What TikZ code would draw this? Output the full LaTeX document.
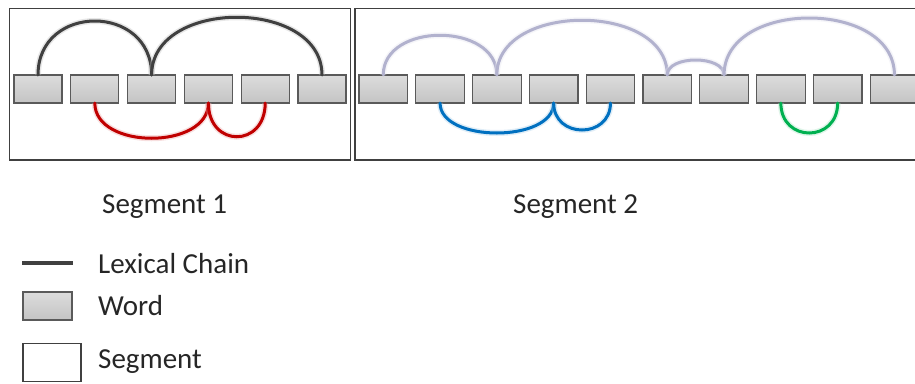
\documentclass[tikz,border=0pt]{standalone}
\usepackage{fontspec}
\setmainfont{Carlito}
\begin{document}
\begin{tikzpicture}[x=1pt,y=-1pt,
  segbox/.style={draw=segline, line width=1.4pt, fill=white},
  wordbox/.style={draw=wordline, line width=1.2pt, top color=wordtop, bottom color=wordbot,
    minimum width=48pt, minimum height=28pt, inner sep=0pt, outer sep=0pt},
  chain/.style={draw=#1, line width=3pt, line cap=round,
    preaction={draw=#1!35, line width=6pt, draw opacity=0.35}},
  lbl/.style={font=\fontsize{29}{34}\selectfont, text=labeltext, inner sep=0pt, anchor=base west},
]
\definecolor{segline}{RGB}{64,64,64}
\definecolor{wordline}{RGB}{90,90,90}
\definecolor{wordtop}{RGB}{220,220,220}
\definecolor{wordbot}{RGB}{196,196,196}
\definecolor{darkchain}{RGB}{64,64,64}
\definecolor{palechain}{RGB}{178,178,206}
\definecolor{redchain}{RGB}{192,0,0}
\definecolor{bluechain}{RGB}{0,112,192}
\definecolor{greenchain}{RGB}{0,176,80}
\definecolor{labeltext}{RGB}{38,38,38}

\clip (0,0) rectangle (915,383);

% segment frames
\draw[segbox] (9.5,8.5) rectangle (350.5,160);
\draw[segbox] (355,8.5) rectangle (930,160);

% words of segment 1
\foreach \i in {1,...,6}
  \node[wordbox] (a\i) at ({38+56.8*(\i-1)},89) {};
% words of segment 2
\foreach \i in {1,...,10}
  \node[wordbox, minimum width=48.5pt] (b\i) at ({383.25+56.8*(\i-1)},89) {};

% lexical chains, segment 1
\draw[chain=darkchain] (a1.north) .. controls +(0,-72) and +(0,-72) .. (a3.north);
\draw[chain=darkchain] (a3.north) .. controls +(0,-77) and +(0,-77) .. (a6.north);
\draw[chain=redchain] (a2.south) .. controls +(0,47) and +(0,47) .. (a4.south);
\draw[chain=redchain] (a4.south) .. controls +(0,45) and +(0,45) .. (a5.south);

% lexical chains, segment 2
\draw[chain=palechain] (b1.north) .. controls +(0,-53) and +(0,-53) .. (b3.north);
\draw[chain=palechain] (b3.north) .. controls +(0,-73) and +(0,-73) .. (b6.north);
\draw[chain=palechain] (b6.north) .. controls +(0,-20) and +(0,-20) .. (b7.north);
\draw[chain=palechain] (b7.north) .. controls +(0,-76) and +(0,-76) .. (b10.north);
\draw[chain=bluechain] (b2.south) .. controls +(0,40) and +(0,40) .. (b4.south);
\draw[chain=bluechain] (b4.south) .. controls +(0,36) and +(0,36) .. (b5.south);
\draw[chain=greenchain] (b8.south) .. controls +(0,40) and +(0,40) .. (b9.south);

% segment captions
\node[lbl] (s1) at (102,213) {Segment 1};
\node[lbl] (s2) at (513,213) {Segment 2};

% legend
\coordinate (l1) at (22,263);
\coordinate (l2) at (73,263);
\draw[draw=darkchain, line width=4pt] (l1) -- (l2);
\node[lbl] (lchain) at (98,273) {Lexical Chain};
\node[wordbox, minimum width=49pt, minimum height=28pt] (lword) at (47.5,306) {};
\node[lbl] (tword) at (98,315) {Word};
\node[draw=segline, line width=1.2pt, fill=white, minimum width=58pt, minimum height=38pt, inner sep=0pt] (lseg) at (52,362.5) {};
\node[lbl] (tseg) at (98,368) {Segment};
\end{tikzpicture}
\end{document}
